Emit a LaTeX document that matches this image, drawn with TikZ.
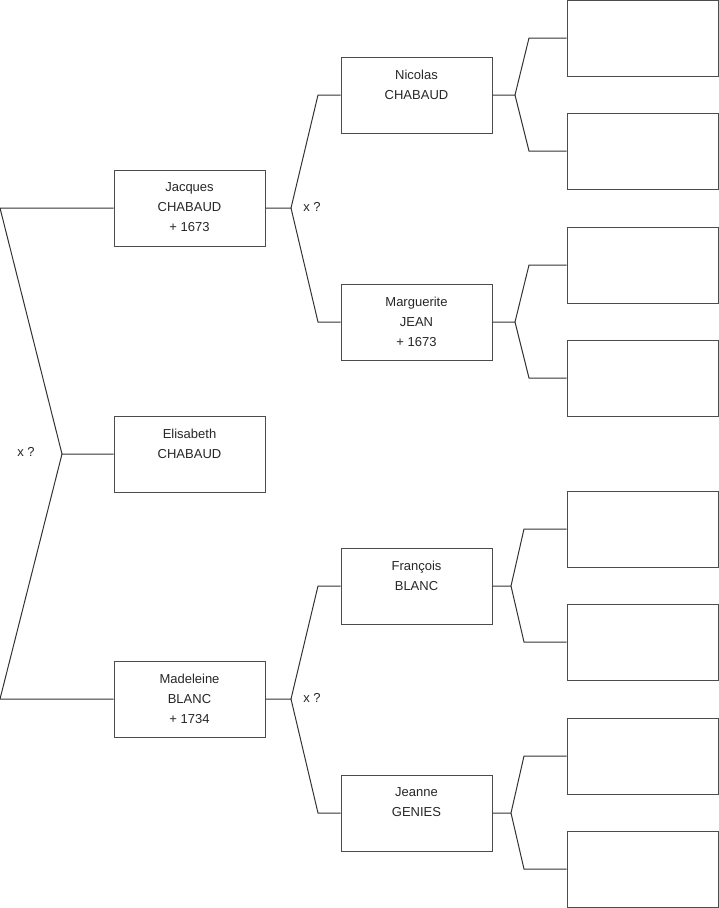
\documentclass[tikz,border=0pt]{standalone}
\usepackage{fontspec}
\setmainfont{Liberation Sans}

\begin{document}
\begin{tikzpicture}[x=1pt, y=-1pt,
 person/.style={draw=black!70, line width=1pt, minimum width=151pt, minimum height=76pt, inner sep=0pt},
 persontext/.style={anchor=north, align=center, inner sep=0pt, yshift=-13pt, font=\fontsize{13}{20}\selectfont, text=black!85},
 link/.style={draw=black!80, line width=1pt},
 union/.style={font=\fontsize{13}{15}\selectfont, text=black!85}
]
\useasboundingbox (0,0) rectangle (719,908);

% generation 1
\node[person] (jacques)   at (189.5,208) {};
\node[person] (elisabeth) at (189.5,454) {};
\node[person] (madeleine) at (189.5,699) {};
\node[persontext] at (jacques.north)   {Jacques\\CHABAUD\\+ 1673};
\node[persontext] at (elisabeth.north) {Elisabeth\\CHABAUD};
\node[persontext] at (madeleine.north) {Madeleine\\BLANC\\+ 1734};

% generation 2
\node[person] (nicolas)    at (416.5,95)  {};
\node[person] (marguerite) at (416.5,322) {};
\node[person] (francois)   at (416.5,586) {};
\node[person] (jeanne)     at (416.5,813) {};
\node[persontext] at (nicolas.north)    {Nicolas\\CHABAUD};
\node[persontext] at (marguerite.north) {Marguerite\\JEAN\\+ 1673};
\node[persontext] at (francois.north)   {François\\BLANC};
\node[persontext] at (jeanne.north)     {Jeanne\\GENIES};

% generation 3 (empty)
\node[person] (nic1) at (642.5,38)  {};
\node[person] (nic2) at (642.5,151) {};
\node[person] (mar1) at (642.5,265) {};
\node[person] (mar2) at (642.5,378) {};
\node[person] (fra1) at (642.5,529) {};
\node[person] (fra2) at (642.5,642) {};
\node[person] (jea1) at (642.5,756) {};
\node[person] (jea2) at (642.5,869) {};

% unions
\node[union] (xq0) at (26,452)  {x ?};
\node[union] (xq1) at (312,207) {x ?};
\node[union] (xq2) at (312,698) {x ?};

\coordinate (u0)  at (62,454);
\coordinate (u0a) at (0,208);
\coordinate (u0b) at (0,699);
\draw[link] (elisabeth.west) -- (u0) -- (u0a) -- (jacques.west);
\draw[link] (u0) -- (u0b) -- (madeleine.west);

\coordinate (u1)  at (291,208);
\coordinate (u1a) at (318,95);
\coordinate (u1b) at (318,322);
\draw[link] (jacques.east) -- (u1) -- (u1a) -- (nicolas.west);
\draw[link] (u1) -- (u1b) -- (marguerite.west);

\coordinate (u2)  at (291,699);
\coordinate (u2a) at (318,586);
\coordinate (u2b) at (318,813);
\draw[link] (madeleine.east) -- (u2) -- (u2a) -- (francois.west);
\draw[link] (u2) -- (u2b) -- (jeanne.west);

\coordinate (u3)  at (515,95);
\coordinate (u3a) at (529,38);
\coordinate (u3b) at (529,151);
\draw[link] (nicolas.east) -- (u3) -- (u3a) -- (nic1.west);
\draw[link] (u3) -- (u3b) -- (nic2.west);

\coordinate (u4)  at (515,322);
\coordinate (u4a) at (529,265);
\coordinate (u4b) at (529,378);
\draw[link] (marguerite.east) -- (u4) -- (u4a) -- (mar1.west);
\draw[link] (u4) -- (u4b) -- (mar2.west);

\coordinate (u5)  at (511,586);
\coordinate (u5a) at (524,529);
\coordinate (u5b) at (524,642);
\draw[link] (francois.east) -- (u5) -- (u5a) -- (fra1.west);
\draw[link] (u5) -- (u5b) -- (fra2.west);

\coordinate (u6)  at (511,813);
\coordinate (u6a) at (524,756);
\coordinate (u6b) at (524,869);
\draw[link] (jeanne.east) -- (u6) -- (u6a) -- (jea1.west);
\draw[link] (u6) -- (u6b) -- (jea2.west);
\end{tikzpicture}
\end{document}
